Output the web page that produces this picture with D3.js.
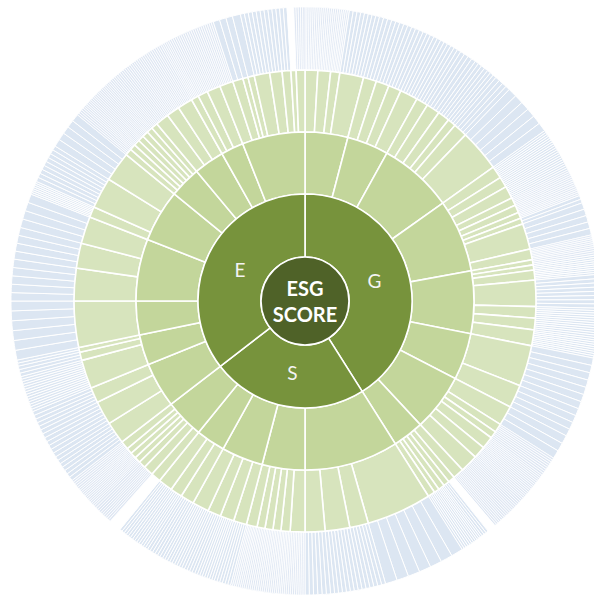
<!DOCTYPE html>
<html>
<head>
<meta charset="utf-8">
<script src="https://cdn.jsdelivr.net/npm/d3@7"></script>
<style>
  html, body { margin: 0; padding: 0; background: #ffffff; }
  svg { display: block; }
</style>
</head>
<body>
<svg id="chart" width="594" height="597"></svg>
<script>
// Pillars, clockwise from 12 o'clock
const pillars = ["G", "S", "E"];
const centreLabel = ["ESG", "SCORE"];

// Indicator weights, grouped by theme, for each pillar
const gIndicators = [
  [3.2, 3.2, 2.3, 6.0],
  [3.3, 3.3, 3.2, 4.5],
  [3.0, 3.4, 3.0, 2.1, 3.5, 10.6],
  [3.1, 2.7, 3.1, 2.0, 2.0, 1.5, 1.5, 6.5, 2.7],
  [1.3, 1.3, 2.5, 6.6, 2.9, 2.9, 4.0],
  [10.3, 5.8],
  [5.0, 2.2, 1.8, 3.1, 3.1, 4.5],
  [2.8, 1.7, 1.5, 1.6, 1.3, 1.8]
];
const sIndicators = [
  [16.4, 4.7, 6.2, 5.0],
  [3.7, 2.3, 2.0, 2.0, 2.0, 2.7],
  [3.3, 3.5, 3.3, 4.2],
  [3.4, 3.0, 3.6],
  [2.5, 2.5, 1.8, 1.5, 1.5, 1.5, 2.1]
];
const eIndicators = [
  [5.6, 6.0, 3.9],
  [7.2, 2.1, 1.2],
  [11.6],
  [8.2, 6.3, 6.8],
  [2.7, 7.8, 7.5],
  [1.7, 1.5, 1.5, 1.5, 1.5, 1.5, 1.6],
  [3.4, 3.3, 3.8],
  [1.9, 2.5, 3.4],
  [3.4, 2.6, 1.3, 1.6, 3.9, 3.1, 2.2, 1.3, 2.2]
];

// Number of underlying data points behind each indicator
const gPoints = [
  [8, 8, 6, 8],
  [4, 4, 4, 6],
  [4, 4, 4, 3, 4, 6],
  [7, 6, 7, 5, 5, 4, 2, 5, 7],
  [3, 3, 6, 8, 6, 6, 9],
  [7, 4],
  [3, 5, 4, 8, 8, 11],
  [7, 1, 3, 4, 3, 4]
];
const sPoints = [
  [7, 6, 8, 6],
  [9, 6, 5, 5, 5, 7],
  [6, 7, 6, 8],
  [6, 6, 7],
  [1, 6, 4, 4, 4, 4, 5]
];
const ePoints = [
  [7, 7, 5],
  [14, 3, 2],
  [6],
  [5, 4, 4],
  [7, 9, 5],
  [4, 4, 4, 4, 4, 4, 4],
  [8, 8, 9],
  [5, 6, 8],
  [8, 2, 1, 1, 5, 4, 3, 1, 5]
];

// Data coverage of each indicator: 0 none, 1 partial, 2 full
const gCoverage = [
  [1, 1, 1, 2],
  [2, 2, 2, 2],
  [2, 2, 2, 2, 2, 2],
  [2, 2, 2, 1, 1, 1, 2, 2, 1],
  [1, 2, 2, 2, 2, 2, 2],
  [2, 2],
  [2, 1, 1, 1, 1, 1],
  [1, 0, 2, 2, 2, 2]
];
const sCoverage = [
  [2, 2, 2, 2],
  [1, 1, 1, 1, 1, 1],
  [2, 2, 2, 2],
  [2, 2, 2],
  [0, 1, 1, 1, 1, 1, 1]
];
const eCoverage = [
  [2, 2, 2],
  [2, 2, 2],
  [2],
  [2, 2, 2],
  [2, 2, 2],
  [1, 1, 1, 1, 1, 1, 1],
  [1, 1, 1],
  [1, 1, 1],
  [1, 2, 2, 2, 2, 2, 2, 0, 1]
];

const indicators = [gIndicators, sIndicators, eIndicators];
const points = [gPoints, sPoints, ePoints];
const coverage = [gCoverage, sCoverage, eCoverage];

// Build the hierarchy: score -> pillar -> theme -> indicator -> data point
const tree = {
  name: centreLabel.join(" "),
  children: pillars.map((p, i) => ({
    name: p,
    children: indicators[i].map((theme, j) => ({
      name: p + (j + 1),
      children: theme.map((w, k) => {
        const n = points[i][j][k];
        return {
          name: p + (j + 1) + "." + (k + 1),
          coverage: coverage[i][j][k],
          children: d3.range(n).map(() => ({ value: w / n }))
        };
      })
    }))
  }))
};

const cx = 305, cy = 301;

const root = d3.hierarchy(tree).sum(d => d.value || 0);
d3.partition().size([2 * Math.PI, 5])(root);

const radius = d3.scaleLinear()
  .domain([0, 1, 2, 3, 4, 5])
  .range([0, 44, 107, 169, 231, 294]);

const arc = d3.arc()
  .startAngle(d => d.x0)
  .endAngle(d => d.x1)
  .innerRadius(d => radius(d.y0))
  .outerRadius(d => radius(d.y1));

const levelFill = ["#4f6228", "#77933c", "#c3d69b", "#d7e4bd"];
const pointFill = { 0: "#ffffff", 1: "#dfe7f3", 2: "#dce6f2" };

const svg = d3.select("#chart");
const g = svg.append("g").attr("transform", `translate(${cx},${cy})`);

const nodes = root.descendants();
const outer = nodes.filter(d => d.depth === 4);
const inner = nodes.filter(d => d.depth < 4).sort((a, b) => b.depth - a.depth);

g.append("g").selectAll("path")
  .data(outer)
  .join("path")
  .attr("d", arc)
  .attr("fill", d => pointFill[d.parent.data.coverage])
  .attr("stroke", "#ffffff")
  .attr("stroke-width", d => d.parent.data.coverage === 1 ? 0.8 : 1);

g.append("g").selectAll("path")
  .data(inner)
  .join("path")
  .attr("d", arc)
  .attr("fill", d => levelFill[d.depth])
  .attr("stroke", "#ffffff")
  .attr("stroke-width", 1.6);

// Pillar labels, placed on the middle of each pillar's ring
const labelArc = d3.arc()
  .startAngle(d => d.x0)
  .endAngle(d => d.x1)
  .innerRadius(radius(1.45))
  .outerRadius(radius(1.45));

g.append("g").selectAll("text")
  .data(root.children)
  .join("text")
  .attr("transform", d => `translate(${labelArc.centroid(d)})`)
  .attr("text-anchor", "middle")
  .attr("dominant-baseline", "central")
  .attr("fill", "#f4f4f4")
  .attr("font-family", "Lato, 'Open Sans', sans-serif")
  .attr("font-size", 19)
  .text(d => d.data.name);

// Centre label
const centre = g.append("text")
  .attr("text-anchor", "middle")
  .attr("fill", "#ffffff")
  .attr("font-family", "Lato, 'Open Sans', sans-serif")
  .attr("font-weight", 700)
  .attr("font-size", 20);

centre.selectAll("tspan")
  .data(centreLabel)
  .join("tspan")
  .attr("x", 0)
  .attr("y", (d, i) => (i - 0.5) * 26)
  .attr("dominant-baseline", "central")
  .text(d => d);
</script>
</body>
</html>
